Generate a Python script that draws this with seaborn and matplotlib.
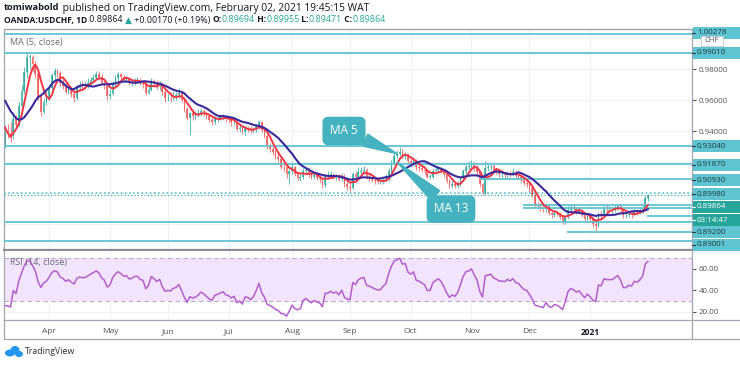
import matplotlib
matplotlib.use("Agg")
import matplotlib.pyplot as plt
import numpy as np
import pandas as pd
import seaborn as sns
from matplotlib.lines import Line2D
from matplotlib.patches import Rectangle, Ellipse

W, H = 740, 365

# closes before the visible window (Jan 22 - Mar 9 2020), they only feed the MAs / RSI
close_pre = [0.9680, 0.9700, 0.9715, 0.9710, 0.9720, 0.9730, 0.9670, 0.9625, 0.9645, 0.9715,
             0.9755, 0.9775, 0.9785, 0.9780, 0.9765, 0.9780, 0.9800, 0.9815, 0.9815, 0.9830,
             0.9845, 0.9830, 0.9815, 0.9800, 0.9775, 0.9760, 0.9670, 0.9640, 0.9600, 0.9570,
             0.9565, 0.9490, 0.9360, 0.9310]

# OANDA:USDCHF daily, Mar 10 2020 -> Feb 2 2021 (one row per month)
close = [
    0.9390, 0.9385, 0.9365, 0.9480, 0.9440, 0.9560, 0.9660, 0.9780, 0.9880, 0.9880, 0.9830, 0.9770, 0.9620, 0.9525, 0.9590, 0.9615,
    0.9680, 0.9760, 0.9790, 0.9775, 0.9710, 0.9690, 0.9650, 0.9670, 0.9640, 0.9615, 0.9680, 0.9700, 0.9690, 0.9695, 0.9710, 0.9730, 0.9745, 0.9765, 0.9750, 0.9710, 0.9690, 0.9625,
    0.9640, 0.9705, 0.9740, 0.9765, 0.9750, 0.9730, 0.9735, 0.9710, 0.9715, 0.9730, 0.9730, 0.9710, 0.9705, 0.9645, 0.9665, 0.9725, 0.9710, 0.9690, 0.9705, 0.9650, 0.9610,
    0.9615, 0.9610, 0.9625, 0.9630, 0.9645, 0.9600, 0.9540, 0.9485, 0.9515, 0.9500, 0.9505, 0.9515, 0.9530, 0.9515, 0.9495, 0.9470, 0.9460, 0.9480, 0.9485, 0.9490, 0.9495, 0.9475,
    0.9470, 0.9455, 0.9460, 0.9415, 0.9420, 0.9395, 0.9420, 0.9415, 0.9400, 0.9410, 0.9430, 0.9460, 0.9405, 0.9370, 0.9300, 0.9285, 0.9265, 0.9235, 0.9220, 0.9170, 0.9165, 0.9120, 0.9140,
    0.9165, 0.9120, 0.9100, 0.9105, 0.9140, 0.9150, 0.9125, 0.9105, 0.9115, 0.9100, 0.9090, 0.9050, 0.9110, 0.9110, 0.9120, 0.9105, 0.9110, 0.9090, 0.9110, 0.9055, 0.9040,
    0.9035, 0.9120, 0.9105, 0.9135, 0.9145, 0.9150, 0.9100, 0.9095, 0.9085, 0.9075, 0.9070, 0.9070, 0.9085, 0.9095, 0.9145, 0.9195, 0.9240, 0.9250, 0.9265, 0.9240, 0.9245, 0.9205,
    0.9195, 0.9210, 0.9165, 0.9160, 0.9150, 0.9140, 0.9105, 0.9105, 0.9140, 0.9150, 0.9160, 0.9145, 0.9120, 0.9080, 0.9045, 0.9055, 0.9045, 0.9060, 0.9095, 0.9140, 0.9170, 0.9175,
    0.9190, 0.9160, 0.9135, 0.9055, 0.9000, 0.9160, 0.9165, 0.9175, 0.9145, 0.9135, 0.9120, 0.9120, 0.9115, 0.9130, 0.9120, 0.9135, 0.9110, 0.9105, 0.9085, 0.9065, 0.9060,
    0.9030, 0.8990, 0.8925, 0.8915, 0.8905, 0.8895, 0.8915, 0.8870, 0.8860, 0.8870, 0.8865, 0.8845, 0.8815, 0.8845, 0.8890, 0.8905, 0.8895, 0.8880, 0.8885, 0.8860, 0.8835, 0.8850,
    0.8830, 0.8800, 0.8790, 0.8865, 0.8860, 0.8900, 0.8895, 0.8895, 0.8895, 0.8905, 0.8915, 0.8895, 0.8855, 0.8855, 0.8865, 0.8860, 0.8880, 0.8875, 0.8885, 0.8900, 0.8969, 0.89864,
]
high = [
    0.9440, 0.9445, 0.9455, 0.9520, 0.9505, 0.9590, 0.9700, 0.9810, 0.9902, 0.9900, 0.9890, 0.9850, 0.9790, 0.9640, 0.9610, 0.9660,
    0.9700, 0.9775, 0.9805, 0.9800, 0.9790, 0.9735, 0.9710, 0.9685, 0.9690, 0.9660, 0.9700, 0.9720, 0.9725, 0.9720, 0.9745, 0.9750, 0.9765, 0.9785, 0.9790, 0.9765, 0.9730, 0.9700,
    0.9670, 0.9720, 0.9760, 0.9780, 0.9775, 0.9760, 0.9755, 0.9745, 0.9735, 0.9745, 0.9750, 0.9740, 0.9725, 0.9715, 0.9690, 0.9740, 0.9735, 0.9730, 0.9720, 0.9715, 0.9665,
    0.9640, 0.9650, 0.9660, 0.9650, 0.9680, 0.9660, 0.9610, 0.9555, 0.9525, 0.9540, 0.9530, 0.9545, 0.9550, 0.9545, 0.9530, 0.9510, 0.9490, 0.9495, 0.9500, 0.9505, 0.9510, 0.9505,
    0.9490, 0.9485, 0.9475, 0.9470, 0.9440, 0.9435, 0.9430, 0.9435, 0.9430, 0.9425, 0.9445, 0.9470, 0.9465, 0.9415, 0.9380, 0.9320, 0.9300, 0.9280, 0.9250, 0.9235, 0.9195, 0.9175, 0.9150,
    0.9200, 0.9175, 0.9135, 0.9125, 0.9160, 0.9170, 0.9165, 0.9140, 0.9135, 0.9125, 0.9110, 0.9100, 0.9125, 0.9140, 0.9140, 0.9130, 0.9125, 0.9120, 0.9130, 0.9120, 0.9070,
    0.9060, 0.9135, 0.9145, 0.9165, 0.9170, 0.9175, 0.9160, 0.9130, 0.9110, 0.9100, 0.9095, 0.9090, 0.9100, 0.9120, 0.9160, 0.9210, 0.9255, 0.9280, 0.9295, 0.9285, 0.9265, 0.9255,
    0.9225, 0.9230, 0.9220, 0.9185, 0.9175, 0.9165, 0.9150, 0.9125, 0.9155, 0.9170, 0.9175, 0.9170, 0.9155, 0.9130, 0.9090, 0.9075, 0.9070, 0.9080, 0.9110, 0.9155, 0.9190, 0.9205,
    0.9210, 0.9200, 0.9180, 0.9145, 0.9065, 0.9205, 0.9185, 0.9195, 0.9185, 0.9160, 0.9150, 0.9140, 0.9135, 0.9145, 0.9140, 0.9160, 0.9150, 0.9125, 0.9115, 0.9095, 0.9090,
    0.9080, 0.9040, 0.9000, 0.8945, 0.8935, 0.8925, 0.8935, 0.8925, 0.8890, 0.8890, 0.8885, 0.8875, 0.8860, 0.8860, 0.8915, 0.8920, 0.8920, 0.8910, 0.8905, 0.8895, 0.8870, 0.8865,
    0.8860, 0.8840, 0.8820, 0.8880, 0.8885, 0.8915, 0.8920, 0.8915, 0.8910, 0.8925, 0.8930, 0.8925, 0.8905, 0.8875, 0.8880, 0.8880, 0.8895, 0.8890, 0.8905, 0.8920, 0.8980, 0.89955,
]
low = [
    0.9290, 0.9355, 0.9330, 0.9350, 0.9420, 0.9430, 0.9540, 0.9640, 0.9740, 0.9800, 0.9790, 0.9740, 0.9600, 0.9500, 0.9510, 0.9570,
    0.9600, 0.9660, 0.9730, 0.9750, 0.9690, 0.9670, 0.9640, 0.9640, 0.9620, 0.9590, 0.9600, 0.9660, 0.9670, 0.9675, 0.9680, 0.9700, 0.9715, 0.9735, 0.9730, 0.9700, 0.9670, 0.9600,
    0.9605, 0.9630, 0.9690, 0.9725, 0.9730, 0.9715, 0.9715, 0.9695, 0.9690, 0.9700, 0.9710, 0.9695, 0.9680, 0.9630, 0.9640, 0.9655, 0.9700, 0.9670, 0.9665, 0.9630, 0.9590,
    0.9595, 0.9590, 0.9600, 0.9600, 0.9610, 0.9585, 0.9520, 0.9470, 0.9375, 0.9470, 0.9480, 0.9490, 0.9500, 0.9500, 0.9480, 0.9455, 0.9440, 0.9445, 0.9460, 0.9470, 0.9470, 0.9460,
    0.9455, 0.9435, 0.9440, 0.9400, 0.9395, 0.9380, 0.9375, 0.9395, 0.9385, 0.9385, 0.9395, 0.9420, 0.9395, 0.9355, 0.9285, 0.9265, 0.9245, 0.9220, 0.9200, 0.9155, 0.9135, 0.9100, 0.9057,
    0.9125, 0.9110, 0.9085, 0.9080, 0.9090, 0.9120, 0.9105, 0.9090, 0.9090, 0.9085, 0.9070, 0.9035, 0.9040, 0.9090, 0.9095, 0.9090, 0.9085, 0.9075, 0.9080, 0.9040, 0.9020,
    0.9010, 0.9025, 0.9090, 0.9095, 0.9120, 0.9130, 0.9090, 0.9080, 0.9070, 0.9060, 0.9055, 0.9055, 0.9060, 0.9075, 0.9080, 0.9130, 0.9180, 0.9225, 0.9240, 0.9225, 0.9220, 0.9195,
    0.9175, 0.9180, 0.9150, 0.9145, 0.9135, 0.9125, 0.9095, 0.9090, 0.9095, 0.9125, 0.9135, 0.9130, 0.9105, 0.9065, 0.9030, 0.9030, 0.9030, 0.9035, 0.9045, 0.9085, 0.9125, 0.9150,
    0.9160, 0.9140, 0.9115, 0.9040, 0.8985, 0.8995, 0.9140, 0.9150, 0.9130, 0.9120, 0.9105, 0.9100, 0.9100, 0.9100, 0.9105, 0.9110, 0.9095, 0.9090, 0.9070, 0.9050, 0.9040,
    0.9010, 0.8975, 0.8910, 0.8895, 0.8885, 0.8880, 0.8880, 0.8855, 0.8840, 0.8845, 0.8850, 0.8830, 0.8800, 0.8800, 0.8830, 0.8870, 0.8880, 0.8865, 0.8870, 0.8845, 0.8820, 0.8825,
    0.8810, 0.8780, 0.8757, 0.8780, 0.8840, 0.8850, 0.8880, 0.8875, 0.8870, 0.8880, 0.8890, 0.8880, 0.8840, 0.8840, 0.8845, 0.8840, 0.8850, 0.8860, 0.8865, 0.8870, 0.8890, 0.89471,
]
no_trade_days = ["2020-12-25", "2021-01-01"]

# user drawn horizontal levels
levels_full = [1.00278, 0.99010, 0.93040, 0.91870, 0.88150, 0.86900]
rays = [(0.90930, 172), (0.89200, 187.5), (0.89001, 187.5), (0.88520, 232.5), (0.87500, 203.5)]
level_dotted = 0.89980

header1 = [("tomiwabold", "bold", "#131722"),
           (" published on TradingView.com, February 02, 2021 19:45:15 WAT", "normal", "#131722")]
header2 = [("OANDA:USDCHF, 1D", "bold", "#131722"), (" 0.89864 ", "normal", "#131722"),
           ("\u25B2", "normal", "#26a69a"), (" +0.00170 (+0.19%) ", "normal", "#131722"),
           ("O:", "bold", "#131722"), ("0.89694", "normal", "#26a69a"),
           (" H:", "bold", "#131722"), ("0.89955", "normal", "#26a69a"),
           (" L:", "bold", "#131722"), ("0.89471", "normal", "#26a69a"),
           (" C:", "bold", "#131722"), ("0.89864", "normal", "#26a69a")]

# right scale labels: (text, y in px, kind)
scale_labels = [("1.00278", 33, "lvl"), ("0.99010", 53, "lvl"), ("0.93040", 146, "lvl"),
                ("0.91870", 165, "lvl"), ("0.90930", 180, "lvl"), ("0.89980", 194, "lvl"),
                ("0.89864", 207, "last"), ("03:14:47", 220, "last"), ("0.89200", 232, "lvl"),
                ("0.89001", 245, "lvl")]

UP, DOWN = "#26a69a", "#ef5350"
LVL = "#5fc4d2"
GRID = "#eef2f7"

sns.set_theme(style="white")
plt.rcParams["font.family"] = ["Open Sans", "DejaVu Sans"]


def fx(px):
    return px / W


def fy(py):
    return 1 - py / H


dates = pd.bdate_range("2020-03-10", "2021-02-02")
dates = dates[~dates.isin(pd.to_datetime(no_trade_days))]
df = pd.DataFrame({"close": close, "high": high, "low": low}, index=dates)
df["open"] = df["close"].shift(1)
df.iloc[0, df.columns.get_loc("open")] = close_pre[-1]
x = np.arange(len(df))
o, c = df["open"].to_numpy(), df["close"].to_numpy()
hi = np.maximum(df["high"].to_numpy(), np.maximum(o, c))
lo = np.minimum(df["low"].to_numpy(), np.minimum(o, c))

allc = pd.Series(close_pre + close)
n0 = len(close_pre)
ma5 = allc.rolling(5).mean().to_numpy()[n0:]
ma13 = allc.rolling(13).mean().to_numpy()[n0:]
delta = allc.diff().fillna(0)
gain = delta.clip(lower=0).ewm(alpha=1 / 14, adjust=False).mean()
loss = (-delta.clip(upper=0)).ewm(alpha=1 / 14, adjust=False).mean()
rsi = (100 - 100 / (1 + gain / loss)).to_numpy()[n0:]

month_start = np.flatnonzero(dates.month[1:] != dates.month[:-1]) + 1
month_start = month_start[dates[month_start] < pd.Timestamp("2021-02-01")]
month_lbl = ["2021" if dates[i].month == 1 else dates[i].strftime("%b") for i in month_start]

fig = plt.figure(figsize=(W / 100, H / 100), dpi=100)
fig.patch.set_facecolor("white")
ax = fig.add_axes([fx(4), fy(250), fx(692) - fx(4), fy(29) - fy(250)])
ar = fig.add_axes([fx(4), fy(320), fx(692) - fx(4), fy(251) - fy(320)])
XL = (-0.36, 248.9)

# ---- price pane
ax.set_xlim(*XL)
ax.set_ylim(0.86323, 1.00581)
for g in np.arange(0.88, 1.001, 0.02):
    ax.axhline(g, color=GRID, lw=0.8, zorder=0)
for i in month_start:
    ax.axvline(i, color=GRID, lw=0.8, zorder=0)

col = np.where(c >= o, UP, DOWN)
ax.vlines(x, lo, hi, colors=col, lw=0.8, alpha=0.7, zorder=2)
ax.bar(x, np.maximum(np.abs(c - o), 0.0003), bottom=np.minimum(o, c), width=0.62,
       color=col, lw=0, alpha=0.75, zorder=2)

for lv in levels_full:
    ax.axhline(lv, color=LVL, lw=1.3, zorder=3)
for lv, start in rays:
    ax.hlines(lv, start, XL[1], color=LVL, lw=1.3, zorder=3)
ax.axhline(level_dotted, color=LVL, lw=1.2, ls=(0, (1, 1.5)), zorder=3)
ax.axhline(c[-1], color=UP, lw=0.8, ls=(0, (1, 2)), zorder=3)

sns.lineplot(x=x, y=ma5, ax=ax, color="#f23645", lw=1.4, zorder=4, legend=False)
sns.lineplot(x=x, y=ma13, ax=ax, color="#3b2a9b", lw=1.5, zorder=5, legend=False)

ax.yaxis.tick_right()
ax.set_yticks([0.94, 0.96, 0.98])
ax.set_yticklabels(["0.94000", "0.96000", "0.98000"])
ax.tick_params(axis="y", length=3, width=0.8, color="#50535e", labelsize=5.8,
               labelcolor="#50535e", pad=2)
ax.set_xticks([])
ax.set_xlabel("")
ax.set_ylabel("")
for s in ax.spines.values():
    s.set_color("#a3a6af")
    s.set_linewidth(0.9)
ax.spines["bottom"].set_color("#8a8d96")
ax.spines["bottom"].set_linewidth(1.6)
ax.text(6 / 688, 1 - 13 / 221, "MA (5, close)", transform=ax.transAxes, fontsize=6.5,
        color="#6a6d78", va="center")

# callouts
CALL = "#45b3bf"
ax.annotate("MA 5", xy=(142, 0.9254), xytext=(344, H - 131), textcoords="figure pixels",
            ha="center", va="center", fontsize=8.5, color="white", zorder=6,
            bbox=dict(boxstyle="round,pad=0.6,rounding_size=0.45", fc=CALL, ec=CALL),
            arrowprops=dict(arrowstyle="wedge,tail_width=1.1,shrink_factor=0.5",
                            fc=CALL, ec=CALL, shrinkA=0, shrinkB=0))
ax.annotate("MA 13", xy=(142, 0.9200), xytext=(451, H - 209), textcoords="figure pixels",
            ha="center", va="center", fontsize=8.5, color="white", zorder=6,
            bbox=dict(boxstyle="round,pad=0.55,rounding_size=0.45", fc=CALL, ec=CALL),
            arrowprops=dict(arrowstyle="wedge,tail_width=1.1,shrink_factor=0.5",
                            fc=CALL, ec=CALL, shrinkA=0, shrinkB=0))

# ---- RSI pane
ar.set_xlim(*XL)
ar.set_ylim(12.1, 76.9)
for g in [20, 40, 60]:
    ar.axhline(g, color=GRID, lw=0.8, zorder=0)
for i in month_start:
    ar.axvline(i, color=GRID, lw=0.8, zorder=0)
ar.axhspan(30, 70, color="#f1e4fc", lw=0, zorder=0.5)
for g in [30, 70]:
    ar.axhline(g, color="#bfa7d3", lw=0.8, ls=(0, (4, 3)), zorder=1)
sns.lineplot(x=x, y=rsi, ax=ar, color="#b45fcc", lw=1.1, zorder=3, legend=False)
ar.yaxis.tick_right()
ar.set_yticks([20, 40, 60])
ar.set_yticklabels(["20.00", "40.00", "60.00"])
ar.tick_params(axis="y", length=3, width=0.8, color="#50535e", labelsize=5.8,
               labelcolor="#50535e", pad=2)
ar.set_xticks(month_start)
ar.set_xticklabels(month_lbl)
ar.tick_params(axis="x", length=3, width=0.8, color="#a3a6af", labelsize=6,
               labelcolor="#50535e", pad=3)
for t in ar.get_xticklabels():
    if t.get_text() == "2021":
        t.set_fontweight("bold")
        t.set_color("#131722")
ar.set_xlabel("")
ar.set_ylabel("")
for s in ar.spines.values():
    s.set_color("#a3a6af")
    s.set_linewidth(0.9)
ar.spines["top"].set_visible(False)
ar.text(6 / 688, 1 - 12 / 69, "RSI (14, close)", transform=ar.transAxes, fontsize=6.5,
        color="#6a6d78", va="center")

# ---- frame lines outside the panes
for (x0, y0, x1, y1) in [(4, 29, 740, 29), (692, 320, 740, 320), (4, 339, 740, 339),
                         (4, 320, 4, 339), (692, 320, 692, 339), (692, 250, 740, 250)]:
    fig.add_artist(Line2D([fx(x0), fx(x1)], [fy(y0), fy(y1)], color="#a3a6af", lw=0.9))

# ---- right scale labels
for txt, yp, kind in scale_labels:
    bg, fg = (LVL, "#1d3b40") if kind == "lvl" else (UP, "white")
    fig.add_artist(Rectangle((fx(693), fy(yp + 6)), fx(47), 12 / H, fc=bg, ec="none", zorder=5))
    fig.add_artist(Line2D([fx(692), fx(695)], [fy(yp), fy(yp)], color=fg, lw=0.8, zorder=6))
    fig.text(fx(697), fy(yp), txt, fontsize=5.8, color=fg, va="center", ha="left", zorder=7)
fig.add_artist(Rectangle((fx(701), fy(46)), fx(22), 10 / H, fc="white", ec="#c5c8cf",
                         lw=0.6, zorder=8))
fig.text(fx(712), fy(41), "CHF", fontsize=5.5, color="#50535e", va="center", ha="center", zorder=9)

# ---- header
fig.canvas.draw()
rend = fig.canvas.get_renderer()


def text_run(x0, yp, pieces, size_bold, size_reg):
    xp = x0
    for s, wt, colr in pieces:
        size = size_bold if wt == "bold" else size_reg
        t = fig.text(fx(xp), fy(yp), s, fontsize=size, fontweight=wt, color=colr,
                     va="center", ha="left")
        xp = t.get_window_extent(renderer=rend).x1


text_run(4, 8, header1, 6.7, 7.4)
text_run(4, 20, header2, 6.1, 6.4)

# ---- TradingView mark
for cx, cy, w, h in [(10, 353, 10, 7), (15, 350, 9, 8), (19, 354, 8, 6)]:
    fig.add_artist(Ellipse((fx(cx), fy(cy)), fx(w), h / H, fc="#2196f3", ec="none"))
fig.text(fx(25), fy(352), "TradingView", fontsize=6.3, color="#2a2e39", va="center", ha="left")

fig.savefig("out.png", dpi=100)
